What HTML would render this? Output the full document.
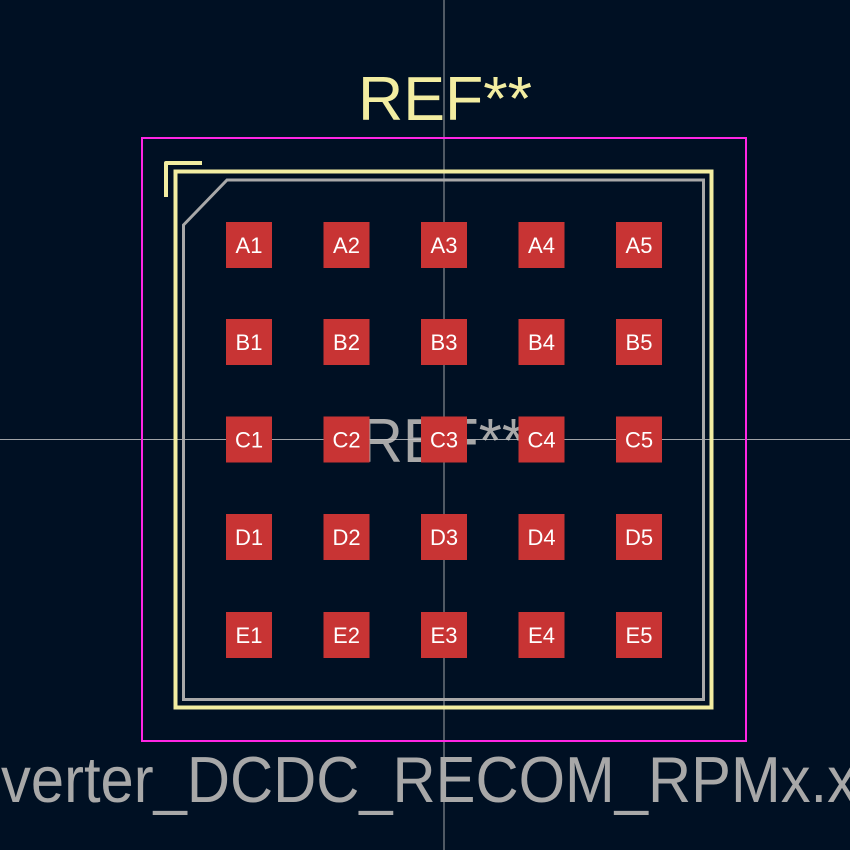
<!DOCTYPE html>
<html><head><style>html,body{margin:0;padding:0;background:#001023;}svg{display:block}</style></head>
<body>
<svg width="850" height="850" viewBox="0 0 850 850" xmlns="http://www.w3.org/2000/svg">
<rect width="850" height="850" fill="#001023"/>
<text x="360" y="462" font-family="Liberation Sans, sans-serif" font-size="62" fill="#a8a8a8" textLength="165" lengthAdjust="spacingAndGlyphs">REF**</text>
<line x1="444" y1="0" x2="444" y2="850" stroke="#c8c8c8" stroke-width="1" opacity="0.8"/>
<line x1="0" y1="439.5" x2="850" y2="439.5" stroke="#c8c8c8" stroke-width="1" opacity="0.8"/>
<rect x="142" y="138" width="604" height="603" fill="none" stroke="#ff26e2" stroke-width="2"/>
<rect x="175.5" y="171.5" width="536" height="536" fill="none" stroke="#f2eda1" stroke-width="4"/>
<path d="M166,197 L166,163 L202,163" fill="none" stroke="#f2eda1" stroke-width="4" stroke-linejoin="round"/>
<path d="M183.5,225 L227,180 L703.5,180 L703.5,699.5 L183.5,699.5 Z" fill="none" stroke="#a8a8a8" stroke-width="3"/>
<g font-family="Liberation Sans, sans-serif" font-size="22" fill="#ffffff" text-anchor="middle">
<g id="pads">
</g>
</g>
<g fill="#c83434">
<rect x="226" y="222" width="46" height="46"/><rect x="323.5" y="222" width="46" height="46"/><rect x="421" y="222" width="46" height="46"/><rect x="518.5" y="222" width="46" height="46"/><rect x="616" y="222" width="46" height="46"/>
<rect x="226" y="319" width="46" height="46"/><rect x="323.5" y="319" width="46" height="46"/><rect x="421" y="319" width="46" height="46"/><rect x="518.5" y="319" width="46" height="46"/><rect x="616" y="319" width="46" height="46"/>
<rect x="226" y="416.5" width="46" height="46"/><rect x="323.5" y="416.5" width="46" height="46"/><rect x="421" y="416.5" width="46" height="46"/><rect x="518.5" y="416.5" width="46" height="46"/><rect x="616" y="416.5" width="46" height="46"/>
<rect x="226" y="514" width="46" height="46"/><rect x="323.5" y="514" width="46" height="46"/><rect x="421" y="514" width="46" height="46"/><rect x="518.5" y="514" width="46" height="46"/><rect x="616" y="514" width="46" height="46"/>
<rect x="226" y="612" width="46" height="46"/><rect x="323.5" y="612" width="46" height="46"/><rect x="421" y="612" width="46" height="46"/><rect x="518.5" y="612" width="46" height="46"/><rect x="616" y="612" width="46" height="46"/>
</g>
<g font-family="Liberation Sans, sans-serif" font-size="22" fill="#ffffff" text-anchor="middle">
<text x="249" y="253">A1</text><text x="346.5" y="253">A2</text><text x="444" y="253">A3</text><text x="541.5" y="253">A4</text><text x="639" y="253">A5</text>
<text x="249" y="350">B1</text><text x="346.5" y="350">B2</text><text x="444" y="350">B3</text><text x="541.5" y="350">B4</text><text x="639" y="350">B5</text>
<text x="249" y="447.5">C1</text><text x="346.5" y="447.5">C2</text><text x="444" y="447.5">C3</text><text x="541.5" y="447.5">C4</text><text x="639" y="447.5">C5</text>
<text x="249" y="545">D1</text><text x="346.5" y="545">D2</text><text x="444" y="545">D3</text><text x="541.5" y="545">D4</text><text x="639" y="545">D5</text>
<text x="249" y="643">E1</text><text x="346.5" y="643">E2</text><text x="444" y="643">E3</text><text x="541.5" y="643">E4</text><text x="639" y="643">E5</text>
</g>
<text x="358" y="120" font-family="Liberation Sans, sans-serif" font-size="62" fill="#f2eda1" textLength="174" lengthAdjust="spacingAndGlyphs">REF**</text>
<text x="1" y="802" font-family="Liberation Sans, sans-serif" font-size="65" fill="#a8a8a8" textLength="856" lengthAdjust="spacingAndGlyphs">verter_DCDC_RECOM_RPMx.x</text>
</svg>
</body></html>
